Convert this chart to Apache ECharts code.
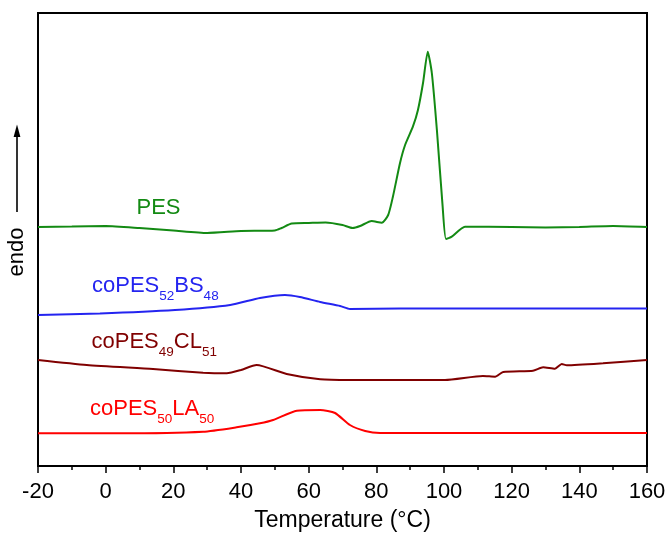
<!DOCTYPE html>
<html><head><meta charset="utf-8">
<script src="https://cdn.jsdelivr.net/npm/echarts@6/dist/echarts.min.js"></script>
<style>html,body{margin:0;padding:0;background:#fff}#c{width:670px;height:533px}</style>
</head><body><div id="c"></div>
<script>
// DSC heating traces, heat flow in arbitrary units (endo up), curves offset vertically
const tempPES = [-20, -10, 0, 10, 20, 30, 40, 50, 52, 55, 60, 65, 70, 73, 75.2, 78.6, 81.6, 83.5, 84.9, 87.0, 88.5, 90.8, 92.3, 93.8, 95.2, 96.4, 97.9, 99.6, 100.6, 102.3, 106.2, 120, 130, 140, 150, 160];
const heatPES = [239, 239.5, 240, 238, 235.5, 233, 235, 235.5, 238, 242.5, 243, 243.5, 241, 238, 240, 245, 243.3, 251, 269.3, 303, 321, 339.3, 356, 383, 414.3, 393, 336, 259.3, 227, 229.3, 239.3, 239, 238.5, 239, 240, 239];

const tempBS = [-20, -1.7, 20.5, 36.8, 45.6, 53, 57.4, 63.4, 69.3, 72.2, 87, 160];
const heatBS = [151, 152.5, 156, 161, 168, 171, 169, 164, 160, 157, 157.5, 157.5];

const tempCL = [-20, -5.6, 14, 28.8, 35.8, 40, 44.6, 53.5, 63.4, 72.2, 92.9, 100.3, 111.5, 115.1, 117.5, 126.3, 129.3, 132.8, 134.8, 136.3, 147, 160];
const heatCL = [106, 101, 97, 93.3, 92.7, 96, 101, 92, 86.7, 86, 86, 86, 90, 89.3, 94, 95.3, 98.7, 97.3, 102, 100.7, 102.7, 106];

const tempLA = [-20, 4.2, 28.8, 38.7, 45.6, 49.5, 56.5, 63.4, 67.8, 72.2, 76.7, 81.1, 160];
const heatLA = [32.7, 32.7, 34.3, 38.7, 42.7, 46, 55.3, 56, 53, 41, 35, 33, 33];

const xTicks = [-20, 0, 20, 40, 60, 80, 100, 120, 140, 160];

// Sample names: [text, isSubscript] pieces
const namePES = [['PES', false]];
const nameBS = [['coPES', false], ['52', true], ['BS', false], ['48', true]];
const nameCL = [['coPES', false], ['49', true], ['CL', false], ['51', true]];
const nameLA = [['coPES', false], ['50', true], ['LA', false], ['50', true]];

const zip = (xs, ys) => xs.map((x, i) => [x, ys[i]]);
const FONT = '"Liberation Sans", Arial, sans-serif';
const MAIN = 22, SUB = 13.5;

const measureCtx = document.createElement('canvas').getContext('2d');
function textWidth(t, size) {
  measureCtx.font = size + 'px ' + FONT;
  return measureCtx.measureText(t).width;
}

// Lay out a label with subscripts; (x, baseline) gives its left edge and baseline
function nameLabel(parts, x, baseline, color) {
  const items = [];
  let cx = x;
  parts.forEach(([t, sub]) => {
    const size = sub ? SUB : MAIN;
    const base = sub ? baseline + 7.5 : baseline;
    items.push({
      type: 'text', x: cx, y: base - 0.35 * size, silent: true,
      style: {text: t, font: size + 'px ' + FONT, fill: color, align: 'left', verticalAlign: 'middle'}
    });
    cx += textWidth(t, size);
  });
  return items;
}

function line(name, xs, ys, color) {
  return {
    name, type: 'line', data: zip(xs, ys), smooth: 0.2, showSymbol: false,
    lineStyle: {color, width: 2}, animation: false
  };
}

const cPES = '#138a13', cBS = '#2424f0', cCL = '#800000', cLA = '#ff0000';

const chart = echarts.init(document.getElementById('c'), null, {renderer: 'canvas'});
chart.setOption({
  backgroundColor: '#fff',
  animation: false,
  grid: {left: 38, right: 23, top: 13, bottom: 67, show: true, borderColor: '#000', borderWidth: 2,
         containLabel: false, outerBoundsMode: 'none'},
  xAxis: {
    type: 'value', min: xTicks[0], max: xTicks[xTicks.length - 1], interval: 20,
    name: 'Temperature (°C)', nameLocation: 'middle', nameGap: 43,
    nameTextStyle: {fontSize: 23, fontFamily: FONT, color: '#000'},
    axisLine: {show: true, onZero: false, lineStyle: {color: '#000', width: 2}},
    axisTick: {show: true, inside: false, length: 7, lineStyle: {color: '#000', width: 1.5}},
    minorTick: {show: true, splitNumber: 2, length: 4, lineStyle: {color: '#000', width: 1.5}},
    axisLabel: {fontSize: 22, fontFamily: FONT, color: '#000', margin: 15},
    splitLine: {show: false}
  },
  yAxis: {
    type: 'value', min: 0, max: 453,
    axisLine: {show: true, onZero: false, lineStyle: {color: '#000', width: 2}},
    axisTick: {show: false}, axisLabel: {show: false}, splitLine: {show: false}
  },
  series: [
    line('PES', tempPES, heatPES, cPES),
    line('coPES52BS48', tempBS, heatBS, cBS),
    line('coPES49CL51', tempCL, heatCL, cCL),
    line('coPES50LA50', tempLA, heatLA, cLA)
  ],
  graphic: [].concat(
    nameLabel(namePES, 136.5, 215.5, cPES),
    nameLabel(nameBS, 92, 293.3, cBS),
    nameLabel(nameCL, 91.5, 349.3, cCL),
    nameLabel(nameLA, 90, 416.7, cLA),
    [
      {type: 'text', rotation: Math.PI / 2, x: 17, y: 252,
       style: {text: 'endo', font: '22px ' + FONT, fill: '#000', align: 'center', verticalAlign: 'middle'}},
      {type: 'line', shape: {x1: 17, y1: 212, x2: 17, y2: 134}, style: {stroke: '#000', lineWidth: 1.6}},
      {type: 'polygon', shape: {points: [[17, 124.5], [13.6, 137], [20.4, 137]]}, style: {fill: '#000'}}
    ]
  )
});
</script></body></html>
